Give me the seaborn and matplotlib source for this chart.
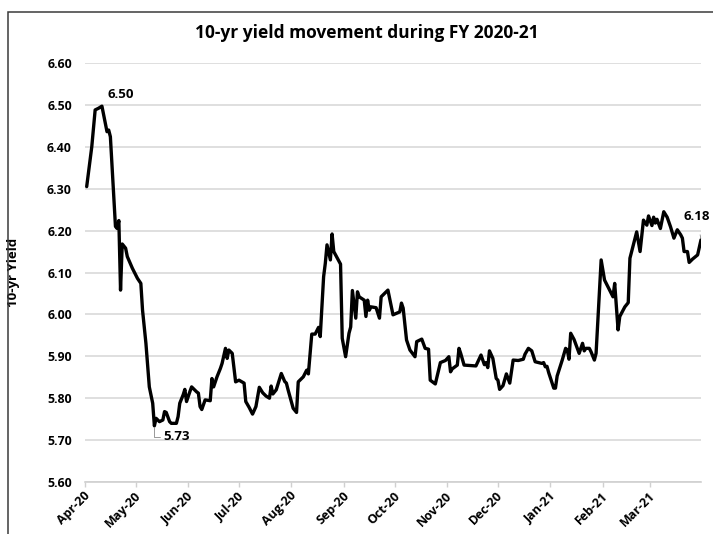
import numpy as np
import pandas as pd
import matplotlib
matplotlib.use("Agg")
import matplotlib.pyplot as plt
import matplotlib.dates as mdates
import seaborn as sns
from matplotlib.patches import Rectangle
from matplotlib.transforms import ScaledTranslation

# ---------------- data ----------------
start_date = "2020-04-01"
end_date = "2021-03-31"
title = "10-yr yield movement during FY 2020-21"
y_label = "10-yr Yield"
y_ticks = [5.60, 5.70, 5.80, 5.90, 6.00, 6.10, 6.20, 6.30, 6.40, 6.50, 6.60]

day_offsets = [
    1, 4, 6, 8, 10, 13, 14, 15, 18, 19, 20, 21, 22, 24, 25, 28, 31, 33, 34, 36,
    38, 40, 41, 42, 44, 46, 47, 48, 50, 51, 54, 55, 56, 58, 59, 60, 62, 63, 66, 67,
    68, 69, 71, 74, 75, 76, 78, 80, 81, 83, 84, 85, 87, 89, 91, 94, 95, 97, 99, 101,
    103, 105, 107, 109, 110, 111, 113, 116, 118, 119, 120, 123, 125, 126, 129, 131, 132, 134, 136, 138,
    139, 141, 142, 143, 145, 146, 147, 151, 152, 154, 156, 157, 158, 160, 161, 162, 165, 166, 167, 168,
    169, 172, 174, 175, 179, 182, 186, 187, 188, 190, 192, 195, 196, 199, 201, 203, 204, 207, 210, 213,
    215, 216, 217, 220, 221, 222, 224, 231, 234, 236, 237, 238, 239, 241, 243, 244, 245, 247, 249, 251,
    253, 256, 259, 260, 262, 264, 266, 270, 271, 272, 273, 274, 277, 278, 279, 282, 284, 285, 286, 287,
    289, 292, 294, 295, 296, 298, 299, 301, 302, 305, 307, 309, 312, 313, 315, 316, 319, 321, 322, 324,
    326, 328, 330, 332, 333, 335, 336, 337, 338, 340, 342, 344, 346, 348, 350, 352, 353, 354, 356, 357,
    359, 362, 364,
]

yields = [
    6.305, 6.400, 6.488, 6.492, 6.497, 6.436, 6.440, 6.424, 6.210, 6.205, 6.224, 6.058, 6.168, 6.158, 6.138, 6.110, 6.086, 6.074, 6.010, 5.931,
    5.827, 5.788, 5.734, 5.752, 5.744, 5.748, 5.768, 5.766, 5.744, 5.740, 5.740, 5.756, 5.788, 5.808, 5.821, 5.792, 5.816, 5.827, 5.815, 5.812,
    5.780, 5.773, 5.796, 5.794, 5.847, 5.827, 5.851, 5.871, 5.883, 5.919, 5.895, 5.915, 5.907, 5.839, 5.843, 5.836, 5.792, 5.778, 5.762, 5.780,
    5.826, 5.813, 5.805, 5.800, 5.829, 5.810, 5.820, 5.859, 5.840, 5.836, 5.820, 5.776, 5.766, 5.839, 5.851, 5.867, 5.858, 5.953, 5.953, 5.969,
    5.947, 6.090, 6.122, 6.166, 6.130, 6.192, 6.150, 6.120, 5.943, 5.899, 5.955, 5.970, 6.057, 5.991, 6.054, 6.042, 6.034, 5.995, 6.034, 6.010,
    6.018, 6.016, 5.991, 6.042, 6.058, 5.999, 6.006, 6.027, 6.015, 5.939, 5.915, 5.899, 5.935, 5.941, 5.919, 5.917, 5.843, 5.834, 5.885, 5.890,
    5.899, 5.863, 5.870, 5.879, 5.919, 5.907, 5.879, 5.877, 5.903, 5.880, 5.885, 5.873, 5.913, 5.895, 5.847, 5.843, 5.821, 5.830, 5.858, 5.836,
    5.891, 5.890, 5.893, 5.905, 5.919, 5.913, 5.887, 5.883, 5.885, 5.875, 5.876, 5.861, 5.824, 5.824, 5.853, 5.891, 5.919, 5.915, 5.893, 5.955,
    5.940, 5.907, 5.931, 5.913, 5.919, 5.919, 5.911, 5.891, 5.907, 6.130, 6.082, 6.066, 6.042, 6.074, 5.963, 5.995, 6.018, 6.028, 6.134, 6.166,
    6.197, 6.150, 6.225, 6.213, 6.235, 6.212, 6.232, 6.218, 6.227, 6.205, 6.245, 6.232, 6.209, 6.182, 6.202, 6.190, 6.182, 6.150, 6.150, 6.124,
    6.132, 6.142, 6.178,
]

# ---------------- style ----------------
sns.set_theme(style="white")
plt.rcParams['font.family'] = ['Open Sans', 'DejaVu Sans']
plt.rcParams['font.weight'] = 'bold'
plt.rcParams['axes.labelweight'] = 'bold'
plt.rcParams['axes.titleweight'] = 'bold'
plt.rcParams['text.color'] = 'black'
plt.rcParams['axes.labelcolor'] = 'black'

dates = pd.Timestamp(start_date) + pd.to_timedelta(day_offsets, unit="D")
df = pd.DataFrame({"date": dates, "yield": yields})

W, H = 713, 534
fig = plt.figure(figsize=(W / 100, H / 100), dpi=100)
fig.patch.set_facecolor("white")

# outer chart border (only top and left visible in the crop)
fig.patches.append(Rectangle((8 / W, -0.5), 2.0, (1 - 12 / H) + 0.5,
                             transform=fig.transFigure, fill=False,
                             edgecolor="#3a3a3a", lw=1.1, zorder=0))

ax = fig.add_axes([85 / W, 1 - 482 / H, 616 / W, 419 / H])
ax.set_facecolor("white")
sns.lineplot(data=df, x="date", y="yield", ax=ax, color="black", lw=2.4)

ax.set_ylim(5.6, 6.6)
ax.set_yticks(y_ticks)
ax.set_yticklabels([f"{t:.2f}" for t in y_ticks], fontweight="bold")
ax.set_xlim(pd.Timestamp(start_date), pd.Timestamp(end_date))
ax.xaxis.set_major_locator(mdates.MonthLocator())
ax.xaxis.set_major_formatter(mdates.DateFormatter("%b-%y"))

ax.grid(axis="y", color="#d9d9d9", lw=1.2)
ax.grid(axis="x", visible=False)
ax.set_axisbelow(True)
for s in ["top", "right", "left"]:
    ax.spines[s].set_visible(False)
ax.spines["bottom"].set_color("#d0d0d0")
ax.spines["bottom"].set_linewidth(1.2)

ax.tick_params(axis="y", length=0, pad=9.5, labelsize=8.8, labelcolor="black")
ax.tick_params(axis="x", length=3.5, width=1, color="#d0d0d0", pad=5,
               labelsize=9, labelcolor="black", direction="out", bottom=True)

fig.canvas.draw()
shift = ScaledTranslation(3 / 100, 0, fig.dpi_scale_trans)
for lab in ax.get_xticklabels():
    lab.set_fontweight("bold")
    lab.set_rotation(45)
    lab.set_ha("right")
    lab.set_va("center")
    lab.set_rotation_mode("anchor")
    lab.set_transform(lab.get_transform() + shift)

ax.set_xlabel("")
ax.set_ylabel(y_label, fontsize=9.5, fontweight="bold", color="black")
ax.yaxis.set_label_coords((20 - 85) / 616, 0.5)

fig.text(367 / W, 1 - 33 / H, title, ha="center", va="center",
         fontsize=12.5, fontweight="bold", color="black")

# annotations: max, min, last
i_max = int(np.argmax(yields))
i_min = int(np.argmin(yields))
i_last = len(yields) - 1

ax.annotate(f"{yields[i_max]:.2f}", xy=(df["date"][i_max], yields[i_max]),
            xytext=(19, 12), textcoords="offset pixels", ha="center", va="center",
            fontsize=9.5, fontweight="bold", color="black")
ax.annotate(f"{yields[i_min]:.2f}", xy=(df["date"][i_min], yields[i_min]),
            xytext=(9, -11), textcoords="offset pixels", ha="left", va="center",
            fontsize=9.5, fontweight="bold", color="black",
            arrowprops=dict(arrowstyle="-", color="#888888", lw=0.6,
                            shrinkA=0, shrinkB=1,
                            connectionstyle="angle,angleA=0,angleB=90,rad=0"))
ax.annotate(f"{yields[i_last]:.2f}", xy=(df["date"][i_last], yields[i_last]),
            xytext=(-4, 23), textcoords="offset pixels", ha="center", va="center",
            fontsize=9.5, fontweight="bold", color="black", annotation_clip=False,
            arrowprops=dict(arrowstyle="-", color="#888888", lw=0.6,
                            shrinkA=6, shrinkB=1))

fig.savefig("out.png", dpi=100, facecolor="white")
